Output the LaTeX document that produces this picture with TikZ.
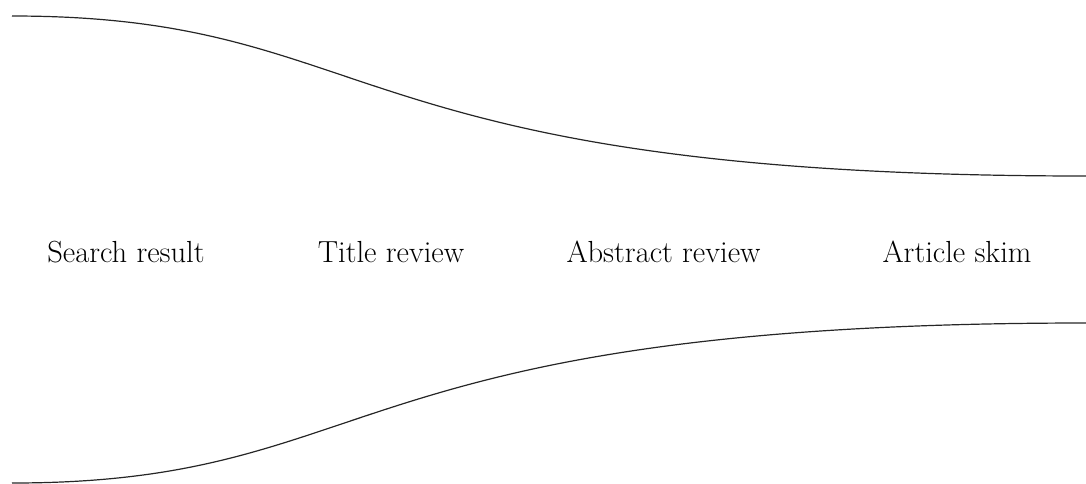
\documentclass[tikz,border=0pt]{standalone}
\begin{document}
\begin{tikzpicture}[x=1pt,y=-1pt,
  funnel/.style={line width=1.2pt, black!85},
  stage/.style={font=\fontsize{30.5}{36}\selectfont, inner sep=0pt, anchor=base}]
\useasboundingbox (0,0) rectangle (1086,483);
\draw[funnel] (12,16) .. controls (385,16) and (330,176) .. (1086,176);
\draw[funnel] (12,483) .. controls (385,483) and (330,323) .. (1086,323);
\node[stage] (s1) at (126,262) {Search result};
\node[stage] (s2) at (391,262) {Title review};
\node[stage] (s3) at (663.5,262) {Abstract review};
\node[stage] (s4) at (957,262) {Article skim};
\end{tikzpicture}
\end{document}
